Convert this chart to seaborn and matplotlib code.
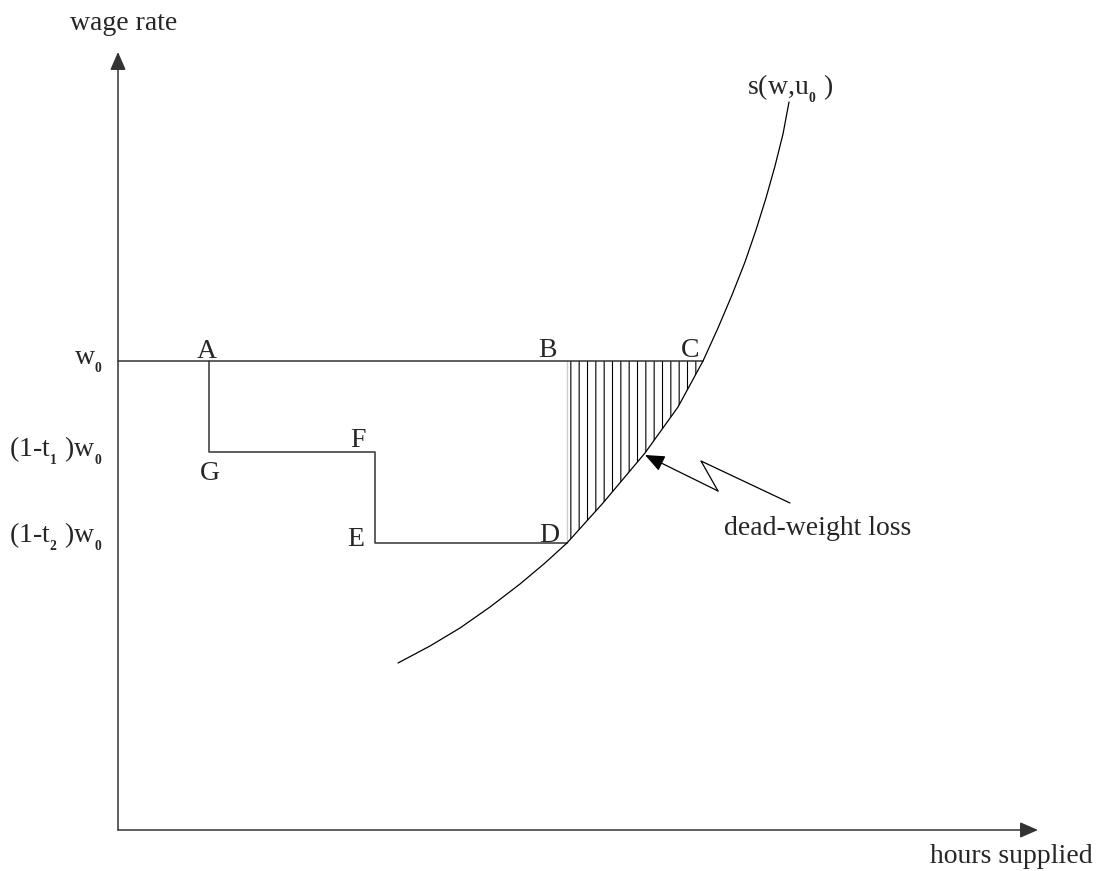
import matplotlib
matplotlib.use("Agg")
import matplotlib.pyplot as plt
import seaborn as sns


# diagram values (hours on x, wage on y)
wage_levels = [469, 378, 287]          # w0, (1-t1)w0, (1-t2)w0
wage_labels = ["w$_{_\\mathbf{0}}$",
               "(1-t$_{_\\mathbf{1}}$ )w$_{_\\mathbf{0}}$",
               "(1-t$_{_\\mathbf{2}}$ )w$_{_\\mathbf{0}}$"]
hours_A = 91
hours_F = 257
hours_B = 449
hours_C = 585

supply_hours = [280, 312, 342, 372, 402, 427, 449, 485, 527, 560, 585,
                600, 614, 627, 638, 648, 657, 665, 671]
supply_wage = [167, 184, 202, 223, 246, 267, 287, 327, 377, 423, 469,
               502, 535, 568, 600, 632, 664, 696, 728]

point_names = ["A", "G", "F", "E", "D", "B", "C"]
point_hours = [89, 92, 240, 238, 431, 429, 572]
point_wage = [472, 350, 383, 284, 288, 473, 473]

zigzag_hours = [527, 600, 583, 672]
zigzag_wage = [375, 339, 369, 327]

axis_x_end = 920
axis_y_end = 778

sns.set_style("white")
plt.rcParams["font.family"] = ["Liberation Serif", "DejaVu Serif"]
plt.rcParams["mathtext.fontset"] = "custom"
plt.rcParams["mathtext.rm"] = "Liberation Serif"
plt.rcParams["mathtext.bf"] = "Liberation Serif:bold"
plt.rcParams["hatch.linewidth"] = 0.8

fig = plt.figure(figsize=(10.96, 8.71), dpi=100)
ax = fig.add_axes([0, 0, 1, 1])
ax.set_xlim(-118, 978)
ax.set_ylim(-41, 830)
ax.axis("off")

line_col = "#333333"

# axes with arrows
ax.annotate("", xy=(0, axis_y_end), xytext=(0, 0),
            arrowprops=dict(arrowstyle="-|>,head_length=0.55,head_width=0.24",
                            mutation_scale=20, color=line_col, lw=1.1,
                            shrinkA=0, shrinkB=0))
ax.annotate("", xy=(axis_x_end, 0), xytext=(0, 0),
            arrowprops=dict(arrowstyle="-|>,head_length=0.55,head_width=0.24",
                            mutation_scale=20, color=line_col, lw=1.1,
                            shrinkA=0, shrinkB=0))

# w0 line and tax staircase A-G-F-E-D, plus B-D
w0, w1, w2 = wage_levels
sns.lineplot(x=[0, hours_C], y=[w0, w0], sort=False, color=line_col, lw=1.1, ax=ax)
sns.lineplot(x=[hours_A, hours_A, hours_F, hours_F, hours_B],
             y=[w0, w1, w1, w2, w2], sort=False, estimator=None,
             color=line_col, lw=1.1, ax=ax)
sns.lineplot(x=[hours_B, hours_B], y=[w0, w2], sort=False, color="black", lw=1.0, ax=ax)

# compensated supply curve
sns.lineplot(x=supply_hours, y=supply_wage, sort=False, estimator=None,
             color="black", lw=0.9, ax=ax)

# dead-weight loss hatching between B-D and the curve
i_d = supply_wage.index(w2)
i_c = supply_wage.index(w0)
ax.fill_betweenx(supply_wage[i_d:i_c + 1], hours_B, supply_hours[i_d:i_c + 1],
                 facecolor="none", edgecolor="black", hatch="||", linewidth=0)

# zigzag pointer
sns.lineplot(x=zigzag_hours[1:], y=zigzag_wage[1:], sort=False, estimator=None,
             color="black", lw=0.9, ax=ax)
ax.annotate("", xy=(zigzag_hours[0], zigzag_wage[0]),
            xytext=(zigzag_hours[1], zigzag_wage[1]),
            arrowprops=dict(arrowstyle="-|>,head_length=0.6,head_width=0.25",
                            mutation_scale=20, color="black", lw=0.9,
                            shrinkA=0, shrinkB=0))

fs = 20
for name, hx, wy in zip(point_names, point_hours, point_wage):
    ax.text(hx, wy, name, fontsize=fs, ha="center", va="baseline")

for lab, wy in zip(wage_labels, [465, 373, 287]):
    ax.text(-15, wy, lab, fontsize=fs, ha="right", va="baseline")

ax.text(6, 800, "wage rate", fontsize=fs, ha="center", va="baseline")
ax.text(893, -33, "hours supplied", fontsize=fs, ha="center", va="baseline")
ax.text(672, 735, "s(w,u$_{_\\mathbf{0}}$ )", fontsize=fs, ha="center", va="baseline")
ax.text(700, 295, "dead-weight loss", fontsize=fs, ha="center", va="baseline")

fig.savefig("out.png", dpi=100)
plt.close(fig)
